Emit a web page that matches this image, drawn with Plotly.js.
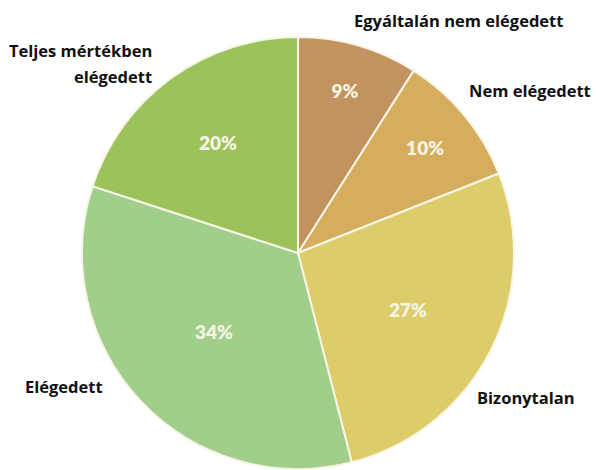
<!DOCTYPE html>
<html>
<head>
<meta charset="utf-8">
<script src="https://cdn.plot.ly/plotly-3.0.1.min.js"></script>
<style>html,body{margin:0;padding:0;background:#fff;}#chart{width:596px;height:470px;}</style>
</head>
<body>
<div id="chart"></div>
<script>
const categories = ["Egyáltalán nem elégedett", "Nem elégedett", "Bizonytalan", "Elégedett", "Teljes mértékben elégedett"];
const labelLines = [["Egyáltalán nem elégedett"], ["Nem elégedett"], ["Bizonytalan"], ["Elégedett"], ["Teljes mértékben", "elégedett"]];
const values = [9, 10, 27, 34, 20];
const percentLabels = ["9%", "10%", "27%", "34%", "20%"];
const colors = ["#c3935f", "#d6ad5d", "#dccd6a", "#a2ce8b", "#9cc35a"];

// outside label placement (paper coords): right/left edge and first-line centre
const labelPos = [
  {x: 0.948, y: 0.957, xanchor: "right"},
  {x: 0.995, y: 0.808, xanchor: "right"},
  {x: 0.968, y: 0.155, xanchor: "right"},
  {x: 0.039, y: 0.177, xanchor: "left"},
  {x: 0.258, y: 0.8936, xanchor: "right"}
];
const lineStep = 26 / 470;

const trace = {
  type: "pie",
  labels: categories,
  values: values,
  text: percentLabels,
  textinfo: "text",
  textposition: "inside",
  insidetextorientation: "horizontal",
  sort: false,
  direction: "clockwise",
  rotation: 0,
  marker: {colors: colors, line: {color: "#f7f5e6", width: 2}},
  insidetextfont: {family: "Lato", size: 19, color: "#f6f3e6", weight: 800},
  domain: {x: [0.1376, 0.8624], y: [0.0021, 0.9213]},
  showlegend: false,
  hoverinfo: "label+percent"
};

const annotations = [];
labelLines.forEach((lines, i) => {
  lines.forEach((ln, j) => {
    annotations.push({
      text: ln,
      xref: "paper", yref: "paper",
      x: labelPos[i].x, y: labelPos[i].y - j * lineStep,
      xanchor: labelPos[i].xanchor, yanchor: "middle",
      showarrow: false,
      font: {family: "Open Sans", size: 16.5, color: "#111111", weight: 700}
    });
  });
});

const layout = {
  width: 596, height: 470,
  margin: {l: 0, r: 0, t: 0, b: 0},
  paper_bgcolor: "#ffffff",
  annotations: annotations
};

Plotly.newPlot("chart", [trace], layout, {displayModeBar: false, staticPlot: true});
</script>
</body>
</html>
